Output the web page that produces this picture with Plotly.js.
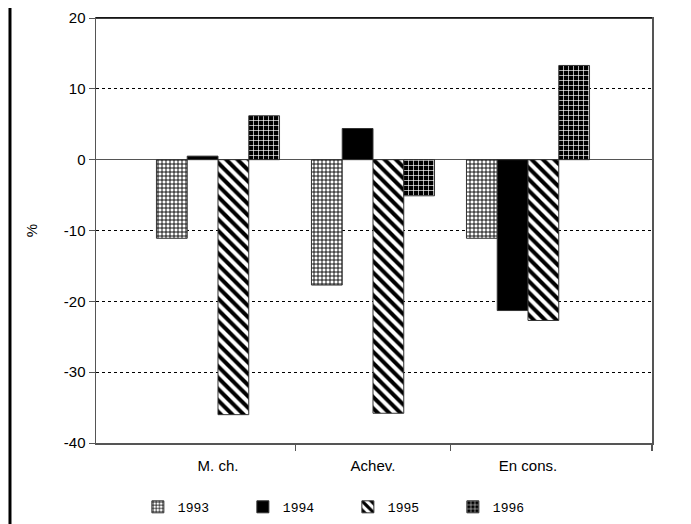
<!DOCTYPE html>
<html>
<head>
<meta charset="utf-8">
<script src="https://cdn.plot.ly/plotly-3.0.1.min.js"></script>
<style>html,body{margin:0;padding:0;background:#fff;}#chart{width:691px;height:524px;}</style>
</head>
<body>
<div id="chart"></div>
<script>
const categories = ["M. ch.", "Achev.", "En cons."];
const years = ["1993", "1994", "1995", "1996"];
const v1993 = [-11.1, -17.7, -11.1];
const v1994 = [0.5, 4.4, -21.3];
const v1995 = [-36.0, -35.8, -22.7];
const v1996 = [6.2, -5.1, 13.3];
const yTicks = [-40, -30, -20, -10, 0, 10, 20];
const yTickText = ["-40", "-30", "-20", "-10", "0", "10", "20"];

const series = [v1993, v1994, v1995, v1996];
const patterns = [
  {shape: "+", bgcolor: "#ffffff", fgcolor: "#000000", size: 4, solidity: 0.4},
  {shape: "", bgcolor: "#000000", fgcolor: "#000000"},
  {shape: "\\", bgcolor: "#ffffff", fgcolor: "#000000", size: 8, solidity: 0.5},
  {shape: "+", bgcolor: "#000000", fgcolor: "#ffffff", size: 5, solidity: 0.25}
];

const traces = series.map((vals, i) => ({
  type: "bar",
  name: years[i],
  x: categories,
  y: vals,
  marker: {
    color: i === 1 ? "#000000" : patterns[i].bgcolor,
    line: {color: "#333333", width: 1},
    pattern: i === 1 ? {shape: ""} : patterns[i]
  },
  hoverinfo: "skip"
}));

traces.push({type: "scatter", x: [0.5], y: [0], xaxis: "x2", yaxis: "y", mode: "markers",
  marker: {opacity: 0}, showlegend: false, hoverinfo: "skip"});

const layout = {
  width: 691, height: 524,
  margin: {l: 96, r: 39, t: 18, b: 81, autoexpand: false},
  paper_bgcolor: "#ffffff", plot_bgcolor: "#ffffff",
  font: {family: "Liberation Sans, Arial, sans-serif", size: 13, color: "#000"},
  barmode: "group",
  bargap: 0.206,
  bargroupgap: 0,
  showlegend: true,
  legend: {orientation: "h", x: 0.453, xanchor: "center", y: -0.115, yanchor: "top",
    font: {family: "Liberation Mono, DejaVu Sans Mono, monospace", size: 13},
    entrywidth: 60, entrywidthmode: "pixels",
    traceorder: "normal"},
  xaxis: {
    type: "category",
    range: [-0.787, 2.8],
    showline: true, linecolor: "#555", linewidth: 1.5, mirror: true,
    ticks: "", showgrid: false, zeroline: false,
    tickfont: {size: 15},
    ticklabelstandoff: 8
  },
  xaxis2: {
    overlaying: "x", anchor: "y", side: "bottom",
    range: [-0.787, 2.8],
    tickvals: [0.5, 1.5, 2.8], ticks: "outside", ticklen: 7, tickcolor: "#555", tickwidth: 1.5,
    showticklabels: false, showgrid: false, zeroline: false, showline: false
  },
  yaxis: {
    range: [-40, 20],
    tickvals: yTicks,
    ticktext: yTickText,
    ticks: "outside", ticklen: 6, tickcolor: "#555",
    showline: true, linecolor: "#555", linewidth: 1.5, mirror: true,
    showgrid: true, gridcolor: "#000", griddash: "dot", gridwidth: 1,
    zeroline: true, zerolinecolor: "#555", zerolinewidth: 1.5,
    tickfont: {size: 15},
    title: {text: "%", font: {size: 15}, standoff: 22}
  },
  shapes: [
    {type: "line", xref: "paper", yref: "paper", x0: -0.1547, x1: -0.1547, y0: 1.0235, y1: -0.2,
      line: {color: "#000", width: 3}},
    {type: "line", xref: "paper", yref: "paper", x0: 0, x1: 1, y0: 1, y1: 1,
      line: {color: "#000", width: 1.5}}
  ]
};

Plotly.newPlot("chart", traces, layout, {staticPlot: true});
</script>
</body>
</html>
